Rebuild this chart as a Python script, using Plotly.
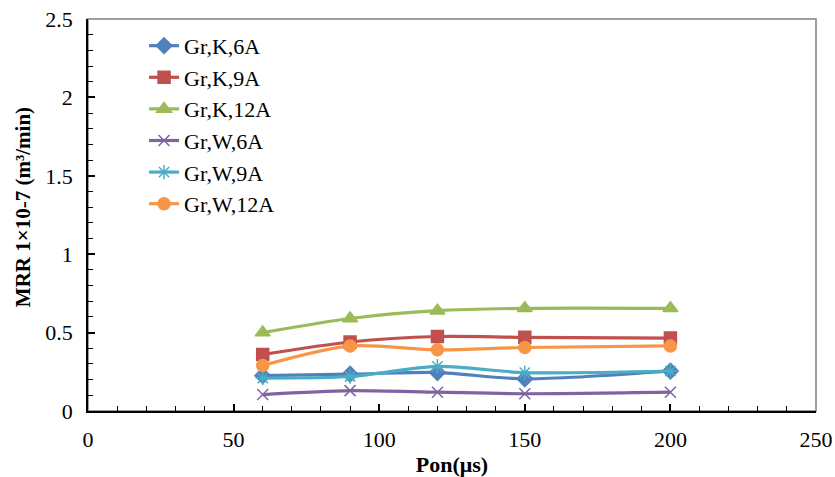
import plotly.graph_objects as go

pon = [60, 90, 120, 150, 200]
series_names = ["Gr,K,6A", "Gr,K,9A", "Gr,K,12A", "Gr,W,6A", "Gr,W,9A", "Gr,W,12A"]
gr_k_6a = [0.225, 0.235, 0.245, 0.205, 0.255]
gr_k_9a = [0.36, 0.44, 0.475, 0.47, 0.465]
gr_k_12a = [0.50, 0.59, 0.64, 0.655, 0.655]
gr_w_6a = [0.105, 0.13, 0.12, 0.11, 0.12]
gr_w_9a = [0.21, 0.22, 0.285, 0.245, 0.255]
gr_w_12a = [0.29, 0.415, 0.39, 0.405, 0.415]
values = [gr_k_6a, gr_k_9a, gr_k_12a, gr_w_6a, gr_w_9a, gr_w_12a]

colors = ["#4F81BD", "#C0504D", "#9BBB59", "#8064A2", "#4BACC6", "#F79646"]
symbols = ["diamond", "square", "triangle-up", "x-thin", "asterisk", "circle"]
sizes = [12, 12, 13, 11, 12, 12]

fig = go.Figure()
for name, y, c, s, sz in zip(series_names, values, colors, symbols, sizes):
    fig.add_trace(go.Scatter(
        x=pon, y=y, name=name, mode="lines+markers",
        line=dict(color=c, width=3.2, shape="spline", smoothing=0.8),
        marker=dict(symbol=s, size=sz, color=c, line=dict(color=c, width=1.5)),
    ))

font = "Liberation Serif, Times New Roman, serif"
fig.update_layout(
    width=835, height=477,
    margin=dict(l=88, r=19, t=19, b=66, autoexpand=False),
    paper_bgcolor="white", plot_bgcolor="white",
    font=dict(family=font, size=22, color="black"),
    showlegend=True,
    legend=dict(x=0.077, y=0.985, xanchor="left", yanchor="top",
                font=dict(family=font, size=22), bgcolor="rgba(0,0,0,0)",
                tracegroupgap=0, itemwidth=30),
    shapes=[dict(type="rect", xref="paper", yref="paper", x0=0, y0=0, x1=1, y1=1,
                 line=dict(color="#808080", width=1.5), layer="below")],
    annotations=[dict(text="<b>MRR 1×10-7 (m³/min)</b>", textangle=-90,
                      xref="paper", yref="paper", x=-0.0893, y=0.52,
                      xanchor="center", yanchor="middle", showarrow=False,
                      font=dict(family=font, size=21))],
)
fig.update_xaxes(
    range=[0, 250], dtick=50, tick0=0, showgrid=False, zeroline=False,
    showline=True, linecolor="black", linewidth=1.5, automargin=False,
    ticks="inside", ticklen=7, tickcolor="black", tickwidth=1.5,
    minor=dict(dtick=10, ticks="inside", ticklen=5, tickcolor="black", tickwidth=1.2),
    title=dict(text="<b>Pon(μs)</b>", font=dict(family=font, size=22), standoff=8),
    tickfont=dict(family=font, size=22), ticklabelstandoff=8,
)
fig.update_yaxes(
    range=[0, 2.5], dtick=0.5, tick0=0, showgrid=False, zeroline=False,
    showline=True, linecolor="black", linewidth=1.5, automargin=False,
    ticks="inside", ticklen=7, tickcolor="black", tickwidth=1.5,
    minor=dict(dtick=0.1, ticks="inside", ticklen=5, tickcolor="black", tickwidth=1.2),
    tickfont=dict(family=font, size=22), ticklabelstandoff=9,
)
fig.write_html("out.html", config={"displayModeBar": False},
               post_script="document.body.style.margin='0';document.body.style.overflow='hidden';")
